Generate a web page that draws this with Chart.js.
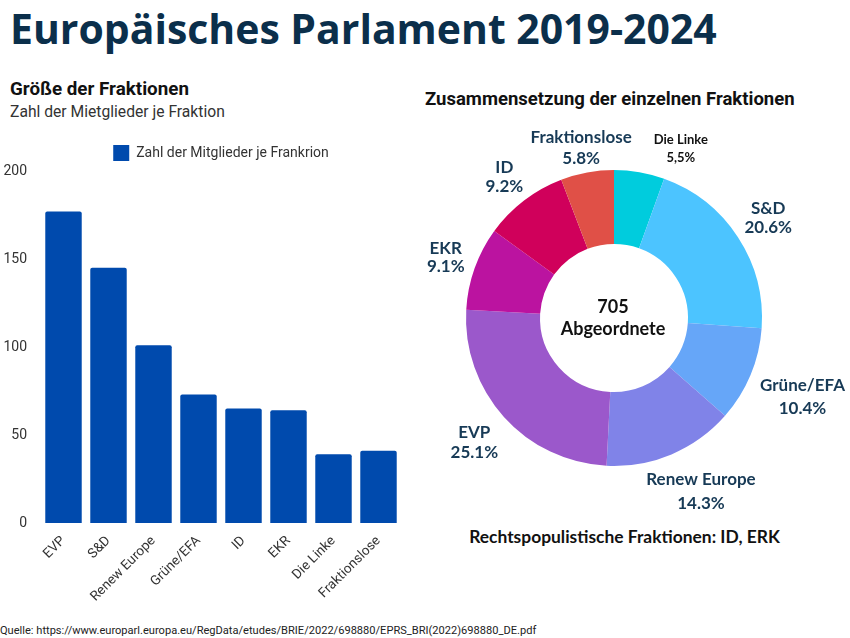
<!DOCTYPE html>
<html><head><meta charset="utf-8">
<script src="https://cdn.jsdelivr.net/npm/chart.js@4/dist/chart.umd.min.js"></script>
<style>
html,body{margin:0;padding:0;background:#fff;}
#wrap{position:relative;width:850px;height:638px;overflow:hidden;background:#fff;}
.t{position:absolute;white-space:nowrap;line-height:1;margin:0;}
#barBox{position:absolute;left:0;top:128px;width:420px;height:482px;}
#pieBox{position:absolute;left:420px;top:120px;width:430px;height:420px;}
</style></head><body>
<div id="wrap">
  <div class="t" id="mainTitle" style="font-family:'Open Sans';font-weight:700;font-size:38px;color:#0B2F4B">Europäisches Parlament 2019-2024</div>
  <div class="t" id="barTitle" style="font-family:Roboto;font-weight:700;font-size:18px;color:#111">Größe der Fraktionen</div>
  <div class="t" id="barSub" style="font-family:Roboto;font-weight:400;font-size:16px;color:#333">Zahl der Mietglieder je Fraktion</div>
  <div class="t" id="pieTitle" style="font-family:Roboto;font-weight:700;font-size:17px;color:#111">Zusammensetzung der einzelnen Fraktionen</div>
  <div class="t" id="pieNote" style="font-family:Lato;font-weight:700;font-size:17px;color:#111">Rechtspopulistische Fraktionen: ID, ERK</div>
  <div class="t" id="source" style="font-family:Roboto;font-weight:400;font-size:11px;color:#222">Quelle: https://www.europarl.europa.eu/RegData/etudes/BRIE/2022/698880/EPRS_BRI(2022)698880_DE.pdf</div>
  <div id="barBox"><canvas id="barChart"></canvas></div>
  <div id="pieBox"><canvas id="pieChart"></canvas></div>
</div>
<script>
// ---- data ----
const barCategories = ['EVP', 'S&D', 'Renew Europe', 'Grüne/EFA', 'ID', 'EKR', 'Die Linke', 'Fraktionslose'];
const barValues = [177, 145, 101, 73, 65, 64, 39, 41];
const barSeriesName = 'Zahl der Mitglieder je Frankrion';
const yTickValues = [0, 50, 100, 150, 200];

const pieCategories = ['Die Linke', 'S&D', 'Grüne/EFA', 'Renew Europe', 'EVP', 'EKR', 'ID', 'Fraktionslose'];
const pieShares = [5.5, 20.6, 10.4, 14.3, 25.1, 9.1, 9.2, 5.8];
const pieShareLabels = ['5,5%', '20.6%', '10.4%', '14.3%', '25.1%', '9.1%', '9.2%', '5.8%'];
const centerLines = ['705', 'Abgeordnete'];

// ---- styles ----
const barColor = '#004AAD';
const pieColors = ['#00CCDD', '#4CC4FF', '#66A6F8', '#8083E8', '#9B58CB', '#BB13A0', '#D0005B', '#E05047'];

// ---- html text fitting ----
function placeText(id, opts) {
  const el = document.getElementById(id);
  const fs0 = parseFloat(getComputedStyle(el).fontSize);
  const w0 = el.getBoundingClientRect().width;
  const fs = fs0 * opts.width / w0;
  el.style.fontSize = fs + 'px';
  el.style.top = (opts.baseline - opts.asc * fs) + 'px';
  const w = el.getBoundingClientRect().width;
  el.style.left = (opts.cx !== undefined ? opts.cx - w / 2 : opts.left) + 'px';
}
placeText('mainTitle', {left: 10, width: 707, baseline: 44, asc: 0.888});
placeText('barTitle', {left: 10, width: 179, baseline: 96, asc: 0.845});
placeText('barSub', {left: 10, width: 215, baseline: 117, asc: 0.845});
placeText('pieTitle', {left: 425, width: 370, baseline: 106, asc: 0.845});
placeText('pieNote', {cx: 624.5, width: 311, baseline: 543, asc: 0.887});
placeText('source', {left: 0, width: 537, baseline: 634, asc: 0.845});

// ---- bar chart ----
new Chart(document.getElementById('barChart'), {
  type: 'bar',
  data: {
    labels: barCategories,
    datasets: [{
      label: barSeriesName,
      data: barValues,
      backgroundColor: barColor,
      borderRadius: 2,
      borderSkipped: 'bottom',
      categoryPercentage: 1,
      barPercentage: 0.81
    }]
  },
  options: {
    responsive: true,
    maintainAspectRatio: false,
    animation: false,
    layout: {padding: {top: 7, right: 19, bottom: 2, left: 0}},
    plugins: {
      legend: {
        position: 'top',
        fullSize: false,
        labels: {
          boxWidth: 16, boxHeight: 16, padding: 10,
          color: '#333',
          font: {family: 'Roboto', size: 14}
        }
      },
      tooltip: {enabled: false}
    },
    scales: {
      x: {
        grid: {display: false},
        border: {display: false},
        ticks: {
          autoSkip: false, maxRotation: 45, minRotation: 45,
          color: '#333', font: {family: 'Roboto', size: 13.5}, padding: 2
        },
        afterFit(scale) { scale.height = 85; }
      },
      y: {
        min: yTickValues[0],
        max: yTickValues[yTickValues.length - 1],
        grid: {display: false},
        border: {display: false},
        afterBuildTicks(scale) { scale.ticks = yTickValues.map(v => ({value: v})); },
        ticks: {color: '#333', font: {family: 'Roboto', size: 14}, padding: 6},
        afterFit(scale) { scale.width = 41; }
      }
    }
  }
});

// ---- doughnut chart ----
const labelBase = {size: 17, color: '#173A56', gap: 20, nudgeX: 0, nudgeY: 0};
const labelStyle = {
  'Die Linke':     {size: 13, color: '#111', gap: 18, nudgeX: 34, nudgeY: 9},
  'S&D':           {gap: 19.5, nudgeX: -3, nudgeY: 0},
  'Grüne/EFA':     {gap: 23, nudgeX: -2, nudgeY: 8},
  'Renew Europe':  {gap: 24, nudgeX: 2, nudgeY: 5},
  'EVP':           {gap: 20, nudgeX: 0, nudgeY: 2.5},
  'EKR':           {gap: 18, nudgeX: 4, nudgeY: 1},
  'ID':            {gap: 18.5, nudgeX: 1.5, nudgeY: 4.5},
  'Fraktionslose': {gap: 21, nudgeX: 6, nudgeY: 9.5}
};
const arcLabels = {
  id: 'arcLabels',
  afterDatasetsDraw(chart) {
    const ctx = chart.ctx;
    const meta = chart.getDatasetMeta(0);
    ctx.save();
    ctx.textAlign = 'center';
    ctx.textBaseline = 'middle';
    meta.data.forEach((arc, i) => {
      const p = arc.getProps(['x', 'y', 'startAngle', 'endAngle', 'outerRadius'], true);
      const mid = (p.startAngle + p.endAngle) / 2;
      const st = Object.assign({}, labelBase, labelStyle[pieCategories[i]] || {});
      ctx.font = '700 ' + st.size + 'px Lato';
      const lines = [pieCategories[i], pieShareLabels[i]];
      const w = Math.max(...lines.map(l => ctx.measureText(l).width));
      const h = 21 + st.size;
      const dx = Math.cos(mid), dy = Math.sin(mid);
      const r = p.outerRadius + 16;
      const cx = p.x + dx * r + dx * w / 2 + st.nudgeX;
      const cy = p.y + dy * r + dy * h / 2 + st.nudgeY;
      ctx.fillStyle = st.color;
      ctx.fillText(lines[0], cx, cy - st.gap / 2);
      ctx.fillText(lines[1], cx, cy + st.gap / 2);
    });
    const c = meta.data[0];
    ctx.fillStyle = '#111';
    ctx.font = '700 18px Lato';
    ctx.textBaseline = 'alphabetic';
    ctx.fillText(centerLines[0], c.x - 1, c.y - 5);
    ctx.fillText(centerLines[1], c.x - 1, c.y + 17);
    ctx.restore();
  }
};
new Chart(document.getElementById('pieChart'), {
  type: 'doughnut',
  data: {
    labels: pieCategories,
    datasets: [{data: pieShares, backgroundColor: pieColors, borderWidth: 0}]
  },
  options: {
    responsive: true,
    maintainAspectRatio: false,
    animation: false,
    cutout: '50%',
    layout: {padding: {left: 46, right: 88, top: 50, bottom: 74}},
    plugins: {legend: {display: false}, tooltip: {enabled: false}}
  },
  plugins: [arcLabels]
});
</script>
</body></html>
